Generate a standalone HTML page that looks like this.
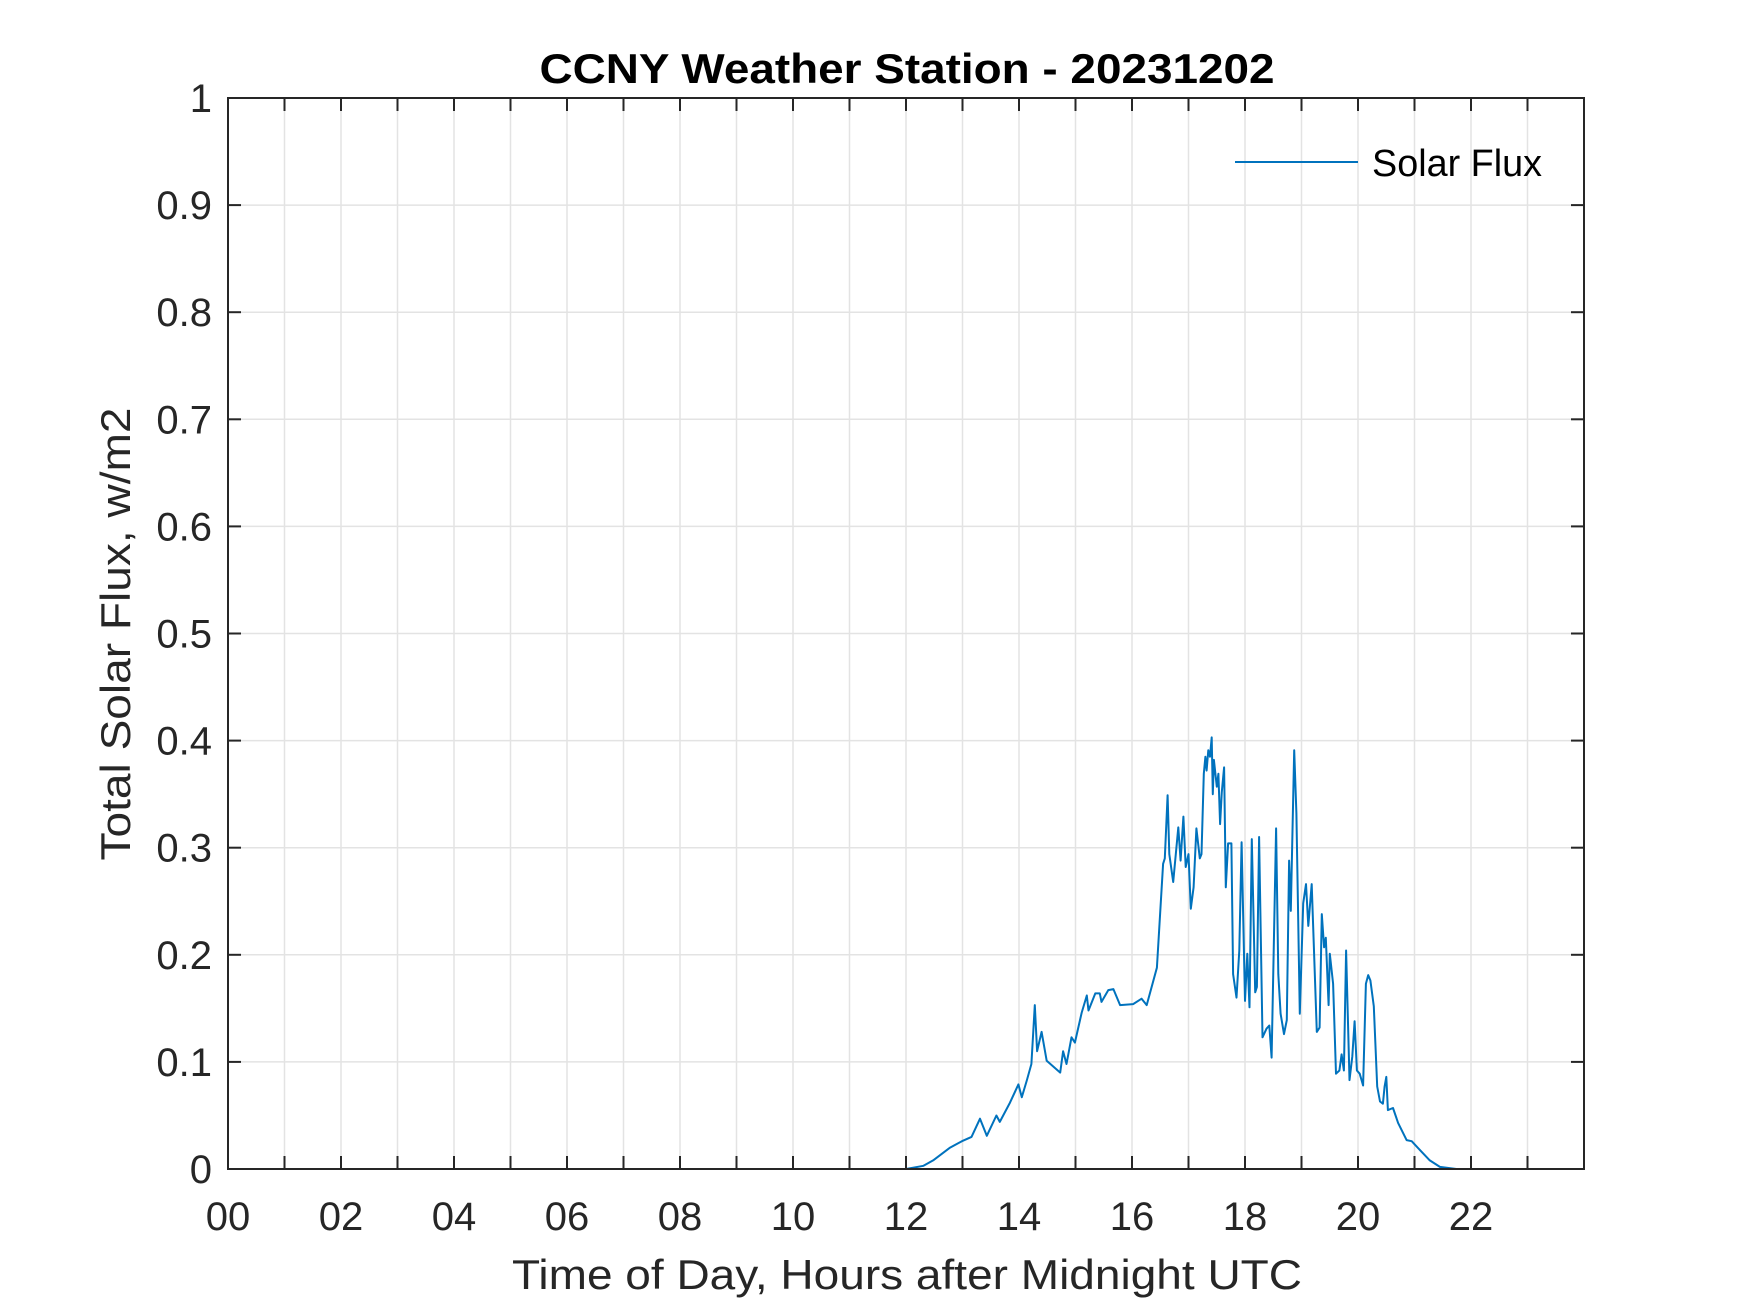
<!DOCTYPE html>
<html><head><meta charset="utf-8"><style>
html,body{margin:0;padding:0;background:#fff;}
svg{display:block;font-family:"Liberation Sans",Arial,sans-serif;}
</style></head><body>
<svg id="chart" width="1750" height="1313" viewBox="0 0 1750 1313" xmlns="http://www.w3.org/2000/svg">
<rect width="1750" height="1313" fill="#fff"/>
<g id="grid"></g>
<g id="series"></g>
<g id="axes"></g>
<text x="907" y="83" text-anchor="middle" font-size="42" font-weight="bold" textLength="735" lengthAdjust="spacingAndGlyphs">CCNY Weather Station - 20231202</text>
<text x="907" y="1289" text-anchor="middle" font-size="42" fill="#262626" textLength="790" lengthAdjust="spacingAndGlyphs">Time of Day, Hours after Midnight UTC</text>
<text x="0" y="0" transform="translate(130,634) rotate(-90)" text-anchor="middle" font-size="42" fill="#262626" textLength="453" lengthAdjust="spacingAndGlyphs">Total Solar Flux, w/m2</text>
<g>
<line x1="1235" y1="162" x2="1358" y2="162" stroke="#0072BD" stroke-width="2"/>
<text x="1372" y="176" font-size="38" textLength="170" lengthAdjust="spacingAndGlyphs">Solar Flux</text>
</g>
</svg>
<script>
const xTickLabels = ["00","02","04","06","08","10","12","14","16","18","20","22"];
const yTickLabels = ["0","0.1","0.2","0.3","0.4","0.5","0.6","0.7","0.8","0.9","1"];
const hours = [0,12.0,12.31,12.48,12.78,12.99,13.16,13.31,13.43,13.60,13.66,13.84,13.99,14.05,14.14,14.22,14.28,14.32,14.40,14.49,14.73,14.78,14.84,14.93,14.99,15.11,15.20,15.23,15.35,15.43,15.46,15.58,15.67,15.79,16.02,16.17,16.26,16.44,16.55,16.58,16.63,16.66,16.73,16.82,16.86,16.91,16.95,17.00,17.04,17.09,17.14,17.20,17.23,17.27,17.30,17.32,17.35,17.38,17.41,17.43,17.45,17.50,17.53,17.56,17.59,17.63,17.66,17.70,17.76,17.79,17.85,17.90,17.94,18.00,18.04,18.08,18.12,18.18,18.21,18.25,18.31,18.38,18.43,18.47,18.55,18.59,18.63,18.69,18.74,18.78,18.81,18.87,18.91,18.97,19.03,19.08,19.12,19.18,19.27,19.32,19.36,19.40,19.43,19.48,19.50,19.56,19.61,19.67,19.71,19.75,19.79,19.85,19.90,19.94,19.98,20.03,20.09,20.14,20.18,20.22,20.28,20.34,20.39,20.44,20.47,20.50,20.53,20.62,20.71,20.86,20.95,21.09,21.27,21.45,21.74,24];
const flux = [0,0,0.003,0.008,0.02,0.026,0.03,0.047,0.031,0.05,0.044,0.062,0.079,0.067,0.083,0.098,0.153,0.11,0.128,0.101,0.09,0.11,0.098,0.123,0.118,0.146,0.162,0.148,0.164,0.164,0.156,0.167,0.168,0.153,0.154,0.159,0.153,0.188,0.285,0.29,0.349,0.294,0.268,0.319,0.288,0.329,0.282,0.294,0.243,0.263,0.318,0.29,0.294,0.369,0.385,0.372,0.391,0.385,0.403,0.35,0.382,0.357,0.369,0.322,0.352,0.375,0.263,0.304,0.304,0.182,0.16,0.204,0.305,0.157,0.201,0.151,0.308,0.165,0.17,0.31,0.123,0.131,0.134,0.104,0.318,0.182,0.145,0.126,0.139,0.288,0.241,0.391,0.332,0.145,0.248,0.266,0.227,0.266,0.128,0.132,0.238,0.207,0.216,0.153,0.201,0.173,0.089,0.092,0.107,0.092,0.204,0.083,0.105,0.138,0.092,0.089,0.078,0.173,0.181,0.176,0.152,0.077,0.063,0.061,0.077,0.086,0.055,0.057,0.043,0.027,0.026,0.018,0.008,0.002,0,0];

const L=228,R=1584,T=98,B=1169;
const xs = h => L + (R-L)*h/24;
const ys = v => B - (B-T)*v;
const NS="http://www.w3.org/2000/svg";
const mk=(t,a,p)=>{const e=document.createElementNS(NS,t);for(const k in a)e.setAttribute(k,a[k]);p.appendChild(e);return e;};
const grid=document.getElementById('grid'), axes=document.getElementById('axes'), series=document.getElementById('series');

for(let h=1;h<24;h++){
  const g=mk('line',{x1:xs(h),x2:xs(h),y1:T,y2:B,stroke:'#e3e3e3','stroke-width':1.5},grid);
  
  
}
for(let i=1;i<yTickLabels.length-1;i++){
  const v=parseFloat(yTickLabels[i]);
  const g=mk('line',{x1:L,x2:R,y1:ys(v),y2:ys(v),stroke:'#e3e3e3','stroke-width':1.5},grid);
  
  
}

const pts=hours.map((h,i)=>xs(h).toFixed(1)+','+ys(flux[i]).toFixed(1)).join(' ');
const pl=mk('polyline',{points:pts,fill:'none',stroke:'#0072BD','stroke-width':2,'stroke-linejoin':'round'},series);



const box=mk('rect',{x:L,y:T,width:R-L,height:B-T,fill:'none',stroke:'#262626','stroke-width':2},axes);



for(let h=0;h<=24;h++){
  const x=xs(h);
  const t1=mk('line',{x1:x,x2:x,y1:B,y2:B-13,stroke:'#262626','stroke-width':2},axes);
  
  
  const t2=mk('line',{x1:x,x2:x,y1:T,y2:T+13,stroke:'#262626','stroke-width':2},axes);
  
  
}
xTickLabels.forEach(s=>{
  const h=parseInt(s,10);
  const t=mk('text',{x:xs(h),y:1230,'text-anchor':'middle','font-size':40,fill:'#262626'},axes);
  t.textContent=s;
  
  
});
yTickLabels.forEach(s=>{
  const v=parseFloat(s), y=ys(v);
  const a=mk('line',{x1:L,x2:L+13,y1:y,y2:y,stroke:'#262626','stroke-width':2},axes);
  
  
  const b=mk('line',{x1:R,x2:R-13,y1:y,y2:y,stroke:'#262626','stroke-width':2},axes);
  
  
  const t=mk('text',{x:212,y:y+14,'text-anchor':'end','font-size':40,fill:'#262626'},axes);
  t.textContent=s;
  
  
});
</script>
</body></html>
